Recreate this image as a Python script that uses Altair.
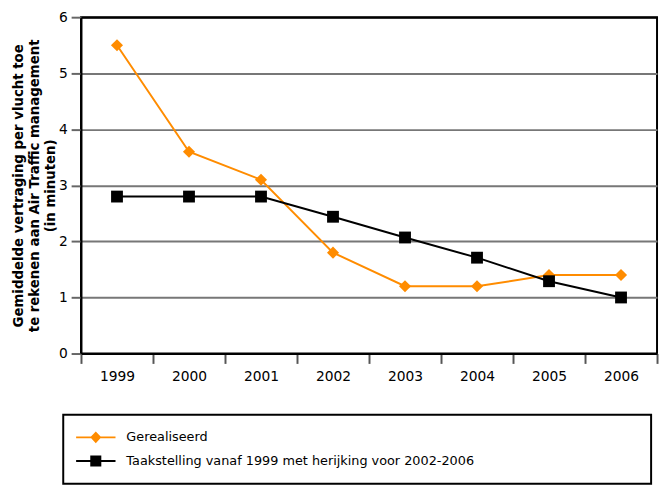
import altair as alt
import pandas as pd

# ---- data ----
years = [1999, 2000, 2001, 2002, 2003, 2004, 2005, 2006]
gerealiseerd = [5.5, 3.6, 3.1, 1.8, 1.2, 1.2, 1.4, 1.4]
taakstelling = [2.8, 2.8, 2.8, 2.44, 2.07, 1.71, 1.29, 1.0]
series_names = ["Gerealiseerd", "Taakstelling vanaf 1999 met herijking voor 2002-2006"]
series_colors = ["#ff8c00", "#000000"]
y_ticks = [0, 1, 2, 3, 4, 5, 6]
x_tick_edges = [1998.5, 1999.5, 2000.5, 2001.5, 2002.5, 2003.5, 2004.5, 2005.5, 2006.5]
y_title = ["Gemiddelde vertraging per vlucht toe",
           "te rekenen aan Air Traffic management",
           "(in minuten)"]

rows = []
for name, vals in zip(series_names, [gerealiseerd, taakstelling]):
    for yr, v in zip(years, vals):
        rows.append({"year": yr, "value": v, "series": name})
df = pd.DataFrame(rows)

FONT = "DejaVu Sans"

# legend symbols: a short line with the marker on it
legend_shapes = [
    "M-1,-0.05H1V0.05H-1Z M0,-0.3L0.28,0L0,0.3L-0.28,0Z",
    "M-1,-0.05H1V0.05H-1Z M-0.28,-0.28H0.28V0.28H-0.28Z",
]

x_enc = alt.X(
    "year:Q",
    scale=alt.Scale(domain=[1998.5, 2006.5], nice=False, zero=False),
    axis=alt.Axis(
        values=x_tick_edges,
        labelExpr="datum.value < 2006 ? format(datum.value + 0.5, 'd') : ''",
        labelOffset=36.5,
        labelFlush=False,
        labelOverlap=False,
        tickSize=10,
        tickWidth=2,
        tickColor="#555555",
        domainColor="#000000",
        domainWidth=2,
        grid=False,
        labelPadding=6,
        labelFont=FONT,
        labelFontSize=14,
        labelColor="#000000",
        title=None,
    ),
)
y_enc = alt.Y(
    "value:Q",
    scale=alt.Scale(domain=[0, 6], nice=False),
    axis=alt.Axis(
        values=y_ticks,
        format="d",
        tickSize=10,
        tickWidth=2,
        tickColor="#666666",
        domainColor="#000000",
        domainWidth=2,
        gridColor={"condition": {"test": "datum.value == 6", "value": "#000000"}, "value": "#777777"},
        gridWidth=2,
        labelPadding=4,
        labelFont=FONT,
        labelFontSize=14,
        labelColor="#000000",
        title=y_title,
        titleFont=FONT,
        titleFontSize=13.5,
        titleFontWeight="bold",
        titleLineHeight=16,
        titlePadding=1,
        titleColor="#000000",
    ),
)

# non-breaking spaces closed by a zero-width space (so they are not trimmed) widen the legend box
pad = "\u00a0" * 40 + "\u200b"
legend_props = dict(
    title=None,
    orient="none",
    legendX=-18,
    legendY=403,
    padding=13,
    clipHeight=20,
    rowPadding=4,
    symbolSize=1600,
    symbolStrokeWidth=0,
    symbolOpacity=1,
    labelOffset=11,
    labelFont=FONT,
    labelFontSize=13,
    labelColor="#000000",
    labelLimit=0,
    labelExpr="datum.label + '" + pad + "'",
    strokeColor="#000000",
    direction="vertical",
)

legend_layer = alt.Chart(df).mark_point(filled=True, opacity=0).encode(
    x=x_enc, y=y_enc,
    color=alt.Color("series:N", scale=alt.Scale(domain=series_names, range=series_colors),
                    legend=alt.Legend(**legend_props)),
    shape=alt.Shape("series:N", scale=alt.Scale(domain=series_names, range=legend_shapes),
                    legend=alt.Legend(**legend_props)),
)

layers = [legend_layer]
for name, col in zip(series_names, series_colors):
    base = alt.Chart(df).transform_filter(alt.datum.series == name)
    layers.append(base.mark_line(strokeWidth=2, color=col).encode(x=x_enc, y=y_enc))
for name, col, shp, sz in zip(series_names, series_colors, ["diamond", "square"], [150, 144]):
    base = alt.Chart(df).transform_filter(alt.datum.series == name)
    layers.append(base.mark_point(shape=shp, filled=True, size=sz, opacity=1, color=col)
                  .encode(x=x_enc, y=y_enc))

chart = alt.layer(*layers).properties(
    width=584,
    height=341,
    autosize=alt.AutoSizeParams(type="none"),
    padding={"left": 74, "top": 6, "right": 2, "bottom": 132},
).configure_view(
    stroke="#000000", strokeWidth=2
).configure_legend(
    strokeWidth=2
)

chart.save("out.html", embed_options={"renderer": "svg", "actions": False})
